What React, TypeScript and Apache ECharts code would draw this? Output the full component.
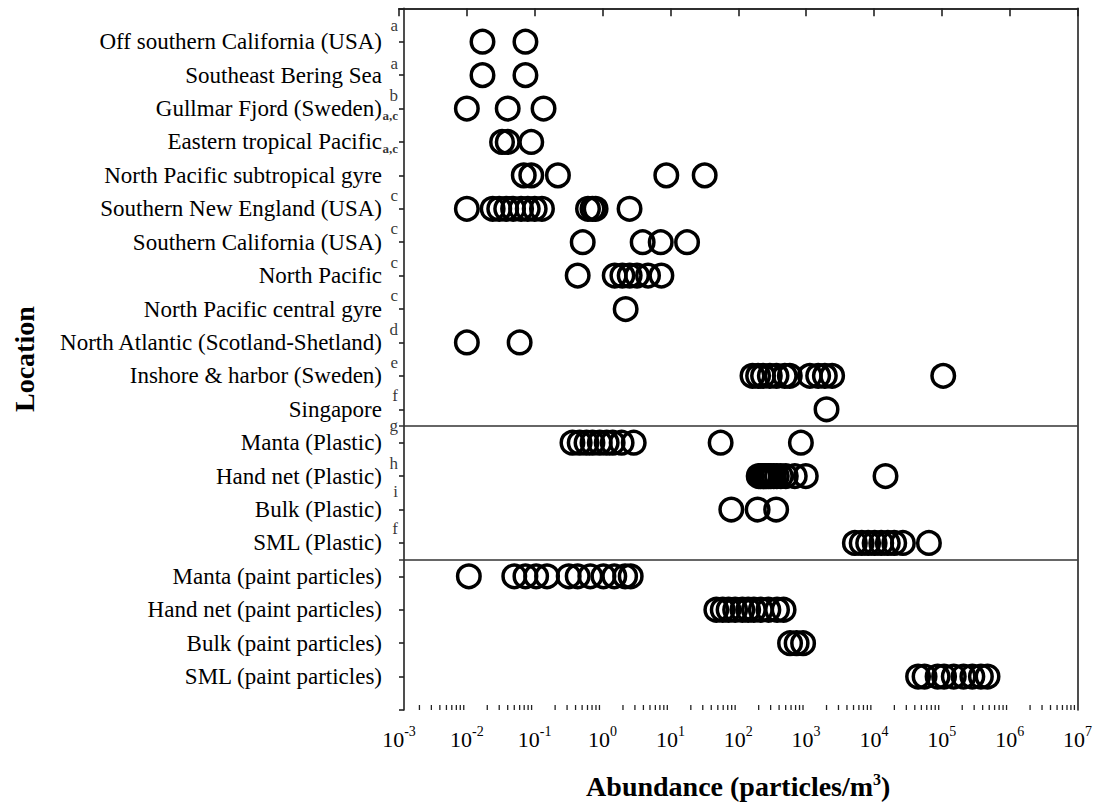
import React, { useEffect, useRef } from "react";
import * as echarts from "echarts";

// ---- Categories (top to bottom) ----
const locations = [
  "Off southern California (USA)",
  "Southeast Bering Sea",
  "Gullmar Fjord (Sweden)",
  "Eastern tropical Pacific",
  "North Pacific subtropical gyre",
  "Southern New England (USA)",
  "Southern California (USA)",
  "North Pacific",
  "North Pacific central gyre",
  "North Atlantic (Scotland-Shetland)",
  "Inshore & harbor (Sweden)",
  "Singapore",
  "Manta (Plastic)",
  "Hand net (Plastic)",
  "Bulk (Plastic)",
  "SML (Plastic)",
  "Manta (paint particles)",
  "Hand net (paint particles)",
  "Bulk (paint particles)",
  "SML (paint particles)",
];

// reference letters (superscripts) per location
const noteLetters = ["a", "a", "b", "a,c", "a,c", "c", "c", "c", "c", "d", "e", "f", "g", "h", "i", "f", "", "", "", ""];

// ---- Abundance values (particles/m3) per location ----
const offSouthernCalifornia = [0.017, 0.073];
const southeastBeringSea = [0.017, 0.073];
const gullmarFjord = [0.010, 0.040, 0.135];
const easternTropicalPacific = [0.033, 0.040, 0.089];
const northPacificSubtropicalGyre = [0.069, 0.089, 0.22, 8.7, 32];
const southernNewEngland = [0.010, 0.024, 0.030, 0.038, 0.048, 0.063, 0.079, 0.10, 0.128, 0.61, 0.71, 0.79, 2.5];
const southernCalifornia = [0.51, 3.9, 7.2, 17.6];
const northPacific = [0.43, 1.51, 1.96, 2.51, 3.22, 4.68, 7.37];
const northPacificCentralGyre = [2.19];
const northAtlantic = [0.010, 0.060];
const inshoreHarborSweden = [162, 196, 232, 292, 366, 485, 575, 1135, 1506, 1890, 2420, 105000];
const singapore = [2000];
const mantaPlastic = [0.36, 0.46, 0.58, 0.71, 0.91, 1.15, 1.41, 1.91, 2.88, 55, 838];
const handNetPlastic = [200, 215, 230, 246, 263, 282, 302, 334, 370, 424, 502, 681, 990, 14800];
const bulkPlastic = [79, 193, 362];
const smlPlastic = [5230, 6590, 8210, 10230, 12800, 16000, 19900, 26700, 64600];
const mantaPaint = [0.0107, 0.050, 0.073, 0.105, 0.152, 0.317, 0.43, 0.66, 1.03, 1.49, 2.15, 2.6];
const handNetPaint = [47.5, 59, 72, 90, 115, 140, 170, 215, 278, 373, 466];
const bulkPaint = [580, 725, 903];
const smlPaint = [44700, 55700, 86700, 108000, 150000, 209000, 282000, 377000, 472000];

const rowValues = [
  offSouthernCalifornia,
  southeastBeringSea,
  gullmarFjord,
  easternTropicalPacific,
  northPacificSubtropicalGyre,
  southernNewEngland,
  southernCalifornia,
  northPacific,
  northPacificCentralGyre,
  northAtlantic,
  inshoreHarborSweden,
  singapore,
  mantaPlastic,
  handNetPlastic,
  bulkPlastic,
  smlPlastic,
  mantaPaint,
  handNetPaint,
  bulkPaint,
  smlPaint,
];

// group separators (between rows)
const separators = [12.5, 16.5];

// x axis range (decades)
const xMin = 0.001;
const xMax = 1e7;

// styling: vertical placement of the superscript letters relative to their row
const noteShift = [-0.5, -0.35, -0.4, -0.8, -0.8, -0.4, -0.4, -0.4, -0.4, -0.4, -0.4, -0.4, -0.5, -0.38, -0.55, -0.43, 0, 0, 0, 0];

const FONT = "Liberation Serif";
const LINE = "#222";
const INK = "#000";

export default function App() {
  const ref = useRef<HTMLDivElement>(null);

  useEffect(() => {
    if (!ref.current) return;
    const chart = echarts.init(ref.current, undefined, { renderer: "svg" });

    const points: number[][] = [];
    rowValues.forEach((vals, i) => vals.forEach((v) => points.push([v, i + 1])));

    const notes: any[] = [];
    noteLetters.forEach((l, i) => {
      if (l) {
        const small = l.length > 1;
        notes.push({
          value: [xMin, i + 1 + noteShift[i]],
          letter: l,
          label: small ? { fontSize: 13, fontWeight: "bold" } : undefined,
        });
      }
    });

    const minorTicks: number[][] = [];
    for (let k = -3; k < 7; k++) {
      for (let m = 2; m <= 9; m++) minorTicks.push([m * Math.pow(10, k), 21]);
    }

    const option: any = {
      animation: false,
      backgroundColor: "#fff",
      textStyle: { fontFamily: FONT },
      grid: { left: 399, right: 19.5, top: 8.3, bottom: 93, containLabel: false, outerBoundsMode: "none" },
      xAxis: [
        {
          type: "log",
          logBase: 10,
          min: xMin,
          max: xMax,
          interval: 1,
          position: "bottom",
          axisLine: { show: true, lineStyle: { color: LINE, width: 1.6 } },
          axisTick: { show: true, inside: false, length: 8, lineStyle: { color: LINE, width: 1.6 } },
          splitLine: { show: false },
          axisLabel: {
            show: true,
            margin: 14,
            showMinLabel: true,
            showMaxLabel: true,
            hideOverlap: false,
            formatter: (v: number) => {
              const e = Math.round(Math.log10(v));
              return "{b|10}{s|" + e + "}";
            },
            rich: {
              b: { fontFamily: FONT, fontSize: 22, color: INK, lineHeight: 30 },
              s: { fontFamily: FONT, fontSize: 14, color: INK, lineHeight: 14, verticalAlign: "top" },
            },
          },
          name: "{t|Abundance (particles/m}{s|3}{t|)}",
          nameLocation: "middle",
          nameGap: 61,
          nameTextStyle: {
            rich: {
              t: { fontFamily: FONT, fontSize: 28, fontWeight: "bold", color: INK, lineHeight: 30 },
              s: { fontFamily: FONT, fontSize: 16, fontWeight: "bold", color: INK, lineHeight: 16, verticalAlign: "top" },
            },
          },
        },
        {
          type: "log",
          logBase: 10,
          min: xMin,
          max: xMax,
          position: "top",
          axisLine: { show: true, lineStyle: { color: LINE, width: 1.6 } },
          axisTick: { show: false },
          axisLabel: { show: false },
          splitLine: { show: false },
        },
      ],
      yAxis: [
        {
          type: "value",
          inverse: true,
          min: 0,
          max: 21,
          interval: 1,
          position: "left",
          offset: -5,
          axisLine: { show: true, lineStyle: { color: LINE, width: 1.6 } },
          axisTick: { show: true, inside: false, length: 5, lineStyle: { color: LINE, width: 1.6 } },
          splitLine: { show: false },
          axisLabel: {
            show: true,
            margin: 22,
            fontFamily: FONT,
            fontSize: 23,
            color: INK,
            showMinLabel: true,
            showMaxLabel: true,
            formatter: (v: number) => (v >= 1 && v <= 20 ? locations[v - 1] : ""),
          },
          name: "Location",
          nameLocation: "middle",
          nameRotate: 90,
          nameGap: 366,
          nameTextStyle: { fontFamily: FONT, fontSize: 28, fontWeight: "bold", color: INK },
        },
        {
          type: "value",
          inverse: true,
          min: 0,
          max: 21,
          position: "right",
          axisLine: { show: true, lineStyle: { color: LINE, width: 1.6 } },
          axisTick: { show: false },
          axisLabel: { show: false },
          splitLine: { show: false },
        },
      ],
      series: [
        {
          type: "scatter",
          xAxisIndex: 0,
          yAxisIndex: 0,
          symbol: "circle",
          symbolSize: 22.5,
          itemStyle: { color: "rgba(255,255,255,0)", borderColor: "#000", borderWidth: 3.5, opacity: 1 },
          data: points,
          silent: true,
          markLine: {
            silent: true,
            symbol: "none",
            label: { show: false },
            lineStyle: { color: "#333", width: 1.5, type: "solid" },
            data: separators.map((y) => ({ yAxis: y })),
          },
        },
        {
          type: "scatter",
          xAxisIndex: 0,
          yAxisIndex: 0,
          symbolSize: 0,
          clip: false,
          silent: true,
          itemStyle: { color: INK },
          data: notes,
          label: {
            show: true,
            position: "left",
            distance: 1,
            fontFamily: FONT,
            fontSize: 17,
            color: INK,
            formatter: (p: any) => p.data.letter,
          },
        },
        {
          type: "custom",
          xAxisIndex: 0,
          yAxisIndex: 0,
          clip: false,
          silent: true,
          data: minorTicks,
          renderItem: (params: any, api: any) => {
            const p = api.coord([api.value(0), api.value(1)]);
            return {
              type: "line",
              shape: { x1: p[0], y1: p[1], x2: p[0], y2: p[1] - 5 },
              style: { stroke: LINE, lineWidth: 1.3 },
            };
          },
        },
      ],
    };

    chart.setOption(option);
    return () => chart.dispose();
  }, []);

  return (
    <div
      ref={ref}
      style={{ position: "absolute", left: 0, top: 0, width: 1097, height: 803, background: "#fff" }}
    />
  );
}
